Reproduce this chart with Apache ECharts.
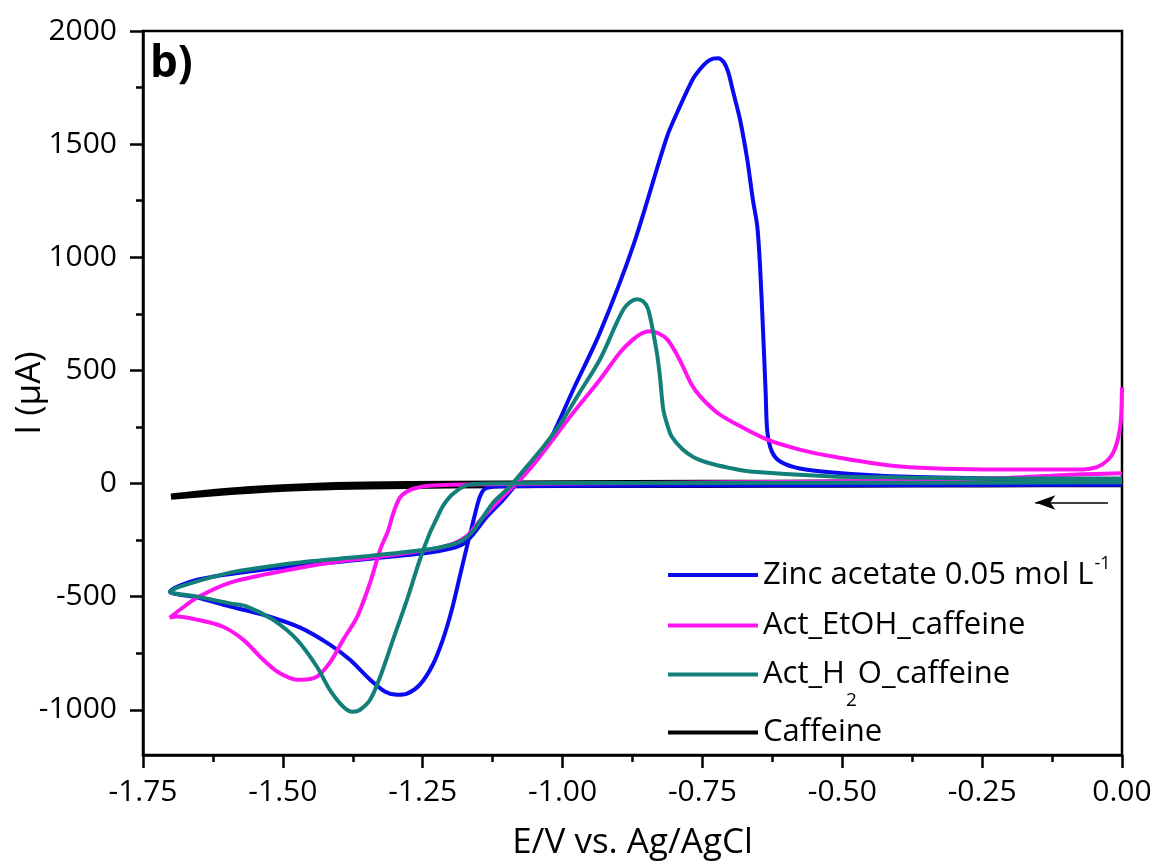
<!DOCTYPE html>
<html>
<head>
<meta charset="utf-8">
<script src="https://cdn.jsdelivr.net/npm/echarts@6/dist/echarts.min.js"></script>
<style>
html,body{margin:0;padding:0;background:#fff;}
#chart{width:1162px;height:864px;}
</style>
</head>
<body>
<div id="chart"></div>
<script>
// ---- Data (E in V vs Ag/AgCl, I in µA) ----
const seriesNames = ['Zinc acetate 0.05 mol L-1', 'Act_EtOH_caffeine', 'Act_H2O_caffeine', 'Caffeine'];
const seriesColors = ['#0a0af0', '#ff14f0', '#128078', '#000000'];

// Zinc acetate: cathodic scan (0 -> -1.7)
const zincCathE = [0.00, -0.50, -1.00, -1.10, -1.128, -1.140, -1.148, -1.155, -1.163, -1.171, -1.183, -1.198, -1.214, -1.232, -1.255, -1.278, -1.296, -1.317, -1.344, -1.380, -1.416, -1.469, -1.535, -1.594, -1.653, -1.702];
const zincCathI = [-5, -8, -10, -12, -15, -25, -60, -120, -200, -279, -403, -558, -690, -801, -889, -929, -934, -920, -867, -779, -712, -637, -580, -544, -504, -478];
// Zinc acetate: anodic scan (-1.7 -> 0)
const zincAnodE = [-1.702, -1.653, -1.535, -1.357, -1.237, -1.200, -1.178, -1.160, -1.135, -1.106, -1.076, -1.046, -1.022, -0.980, -0.933, -0.874, -0.813, -0.790, -0.767, -0.754, -0.742, -0.731, -0.722, -0.712, -0.704, -0.695, -0.683, -0.670, -0.660, -0.652, -0.647, -0.642, -0.637, -0.634, -0.626, -0.611, -0.576, -0.517, -0.397, -0.218, 0.00];
const zincAnodI = [-478, -425, -381, -336, -305, -288, -268, -225, -146, -71, 18, 106, 195, 420, 668, 1049, 1535, 1668, 1788, 1832, 1863, 1878, 1880, 1863, 1819, 1730, 1611, 1434, 1257, 1137, 960, 695, 403, 230, 142, 97, 66, 49, 31, 22, 18];

// Act_EtOH_caffeine
const etohCathE = [0.00, -0.10, -0.20, -0.40, -0.70, -1.00, -1.20, -1.240, -1.262, -1.278, -1.290, -1.298, -1.305, -1.312, -1.326, -1.344, -1.367, -1.392, -1.416, -1.439, -1.458, -1.475, -1.492, -1.510, -1.535, -1.571, -1.607, -1.653, -1.689, -1.702];
const etohCathI = [45, 38, 25, 12, 5, 0, -5, -10, -20, -35, -60, -100, -150, -210, -292, -438, -588, -690, -792, -854, -866, -867, -855, -832, -779, -690, -633, -602, -588, -593];
const etohAnodE = [-1.702, -1.684, -1.653, -1.594, -1.505, -1.416, -1.326, -1.237, -1.195, -1.170, -1.150, -1.124, -1.094, -1.064, -1.035, -0.985, -0.933, -0.897, -0.874, -0.858, -0.844, -0.829, -0.813, -0.798, -0.785, -0.770, -0.754, -0.724, -0.695, -0.635, -0.576, -0.517, -0.397, -0.218, -0.070, -0.045, -0.027, -0.015, -0.007, -0.002, 0.00];
const etohAnodI = [-593, -558, -504, -438, -389, -350, -323, -292, -266, -230, -170, -102, -27, 49, 137, 300, 460, 580, 637, 664, 673, 664, 637, 580, 518, 440, 385, 314, 270, 195, 150, 119, 75, 62, 62, 72, 100, 140, 200, 280, 425];

// Act_H2O_caffeine
const h2oCathE = [0.00, -0.50, -1.00, -1.13, -1.160, -1.175, -1.188, -1.200, -1.214, -1.226, -1.237, -1.255, -1.278, -1.303, -1.326, -1.344, -1.362, -1.375, -1.392, -1.416, -1.439, -1.475, -1.518, -1.564, -1.594, -1.653, -1.702];
const h2oCathI = [5, 3, 2, 0, -3, -10, -30, -55, -100, -160, -217, -336, -513, -690, -854, -956, -1000, -1009, -987, -912, -810, -690, -602, -544, -530, -500, -478];
const h2oAnodE = [-1.702, -1.684, -1.594, -1.475, -1.357, -1.242, -1.200, -1.178, -1.160, -1.140, -1.124, -1.094, -1.064, -1.035, -1.005, -0.970, -0.933, -0.903, -0.891, -0.880, -0.867, -0.856, -0.847, -0.838, -0.831, -0.826, -0.820, -0.813, -0.805, -0.785, -0.765, -0.742, -0.700, -0.665, -0.517, -0.397, -0.218, 0.00];
const h2oAnodI = [-478, -456, -394, -350, -323, -292, -272, -250, -210, -140, -84, -13, 75, 160, 260, 400, 549, 712, 770, 801, 814, 805, 770, 668, 571, 473, 327, 261, 208, 150, 115, 93, 68, 53, 31, 27, 22, 22];

// Caffeine
const cafCathE = [0.00, -0.25, -0.50, -0.75, -1.00, -1.20, -1.35, -1.45, -1.55, -1.62, -1.70];
const cafCathI = [-2, -3, -4, -5, -6, -8, -12, -18, -30, -42, -58];
const cafAnodE = [-1.70, -1.62, -1.55, -1.45, -1.35, -1.20, -1.00, -0.75, -0.50, -0.25, 0.00];
const cafAnodI = [-58, -38, -24, -12, -6, -2, 0, 2, 3, 3, 3];

// Axis ticks
const xTicks = [-1.75, -1.50, -1.25, -1.00, -0.75, -0.50, -0.25, 0.00];
const yMajorTicks = [-1000, -500, 0, 500, 1000, 1500, 2000];
const yMinorTicks = [-750, -250, 250, 750, 1250, 1750];

// Scan direction arrow (start, end) in data coordinates
const arrowStart = [-0.025, -84];
const arrowEnd = [-0.155, -84];

function zip(e, i) { return e.map((v, k) => [v, i[k]]); }
function loop(ce, ci, ae, ai) { return zip(ce, ci).concat(zip(ae, ai)); }

const FONT = '"Open Sans", "DejaVu Sans", sans-serif';

const chart = echarts.init(document.getElementById('chart'));

function legendFor(idx, top) {
  return {
    data: [seriesNames[idx]],
    left: 668,
    top: top,
    orient: 'vertical',
    icon: 'rect',
    itemWidth: 90,
    itemHeight: 4,
    selectedMode: false,
    padding: 0,
    formatter: function (name) {
      if (name === seriesNames[0]) return '{a|Zinc acetate 0.05 mol L}{sup|-1}';
      if (name === seriesNames[2]) return '{a|Act_H}{sub|2}{a|O_caffeine}';
      return '{a|' + name + '}';
    },
    textStyle: {
      color: '#000',
      fontFamily: FONT,
      fontSize: 31,
      rich: {
        a: { fontFamily: FONT, fontSize: 31, color: '#000' },
        sup: { fontFamily: FONT, fontSize: 18, color: '#000', padding: [0, 0, 22, 1] },
        sub: { fontFamily: FONT, fontSize: 19, color: '#000', padding: [53, 1, 0, 1] }
      }
    }
  };
}

const option = {
  animation: false,
  backgroundColor: '#fff',
  grid: { left: 143, right: 40, top: 31, bottom: 109, show: true, borderColor: '#000', borderWidth: 2.5, containLabel: false, outerBoundsMode: 'none' },
  xAxis: {
    type: 'value',
    min: -1.75,
    max: 0,
    interval: 0.25,
    name: 'E/V vs. Ag/AgCl',
    nameLocation: 'middle',
    nameGap: 71,
    nameMoveOverlap: false,
    nameTextStyle: { fontFamily: FONT, fontSize: 35, color: '#000' },
    axisLine: { show: true, onZero: false, lineStyle: { color: '#000', width: 2.5 } },
    axisTick: { show: true, inside: false, length: 13, lineStyle: { color: '#000', width: 2.5 } },
    minorTick: { show: true, splitNumber: 2, length: 7, lineStyle: { color: '#000', width: 2.5 } },
    axisLabel: {
      margin: 22,
      fontFamily: FONT, fontSize: 30, color: '#000',
      showMinLabel: true, showMaxLabel: true, hideOverlap: false,
      formatter: function (v) { return Math.abs(v) < 1e-9 ? '0.00' : v.toFixed(2); }
    },
    splitLine: { show: false },
    minorSplitLine: { show: false }
  },
  yAxis: [{
    type: 'value',
    min: -1200,
    max: 2000,
    position: 'left',
    name: 'I (\u00b5A)',
    nameLocation: 'middle',
    nameGap: 95,
    nameMoveOverlap: false,
    nameTextStyle: { fontFamily: FONT, fontSize: 35, color: '#000' },
    axisLine: { show: true, onZero: false, lineStyle: { color: '#000', width: 2.5 } },
    axisTick: { show: true, inside: false, length: 13, customValues: yMajorTicks, lineStyle: { color: '#000', width: 2.5 } },
    axisLabel: { margin: 26, fontFamily: FONT, fontSize: 30, color: '#000', customValues: yMajorTicks, formatter: function (v) { return String(v); } },
    splitLine: { show: false }
  }, {
    type: 'value',
    min: -1200,
    max: 2000,
    position: 'left',
    axisLine: { show: false, onZero: false },
    axisTick: { show: true, inside: false, length: 7, customValues: yMinorTicks, lineStyle: { color: '#000', width: 2.5 } },
    axisLabel: { show: false },
    splitLine: { show: false }
  }],
  legend: [
    legendFor(0, 555),
    legendFor(1, 610),
    legendFor(2, 659),
    legendFor(3, 717)
  ],
  graphic: [{
    type: 'text',
    left: 150,
    top: 42,
    style: { text: 'b)', font: 'bold 44px "Open Sans", sans-serif', fill: '#000' }
  }],
  series: [
    {
      name: seriesNames[3], type: 'line', showSymbol: false, smooth: 0.3, z: 2,
      color: seriesColors[3], lineStyle: { width: 6.5, color: seriesColors[3] },
      data: loop(cafCathE, cafCathI, cafAnodE, cafAnodI),
      markLine: {
        silent: true,
        symbol: ['none', 'arrow'],
        symbolSize: [11, 20],
        label: { show: false },
        lineStyle: { color: '#000', width: 1.5, type: 'solid' },
        data: [[{ coord: arrowStart }, { coord: arrowEnd }]]
      }
    },
    {
      name: seriesNames[0], type: 'line', showSymbol: false, smooth: 0.3, z: 3,
      color: seriesColors[0], lineStyle: { width: 4, color: seriesColors[0] },
      data: loop(zincCathE, zincCathI, zincAnodE, zincAnodI)
    },
    {
      name: seriesNames[1], type: 'line', showSymbol: false, smooth: 0.3, z: 4,
      color: seriesColors[1], lineStyle: { width: 4, color: seriesColors[1] },
      data: loop(etohCathE, etohCathI, etohAnodE, etohAnodI)
    },
    {
      name: seriesNames[2], type: 'line', showSymbol: false, smooth: 0.3, z: 5,
      color: seriesColors[2], lineStyle: { width: 4, color: seriesColors[2] },
      data: loop(h2oCathE, h2oCathI, h2oAnodE, h2oAnodI)
    }
  ]
};
chart.setOption(option);
</script>
</body>
</html>
